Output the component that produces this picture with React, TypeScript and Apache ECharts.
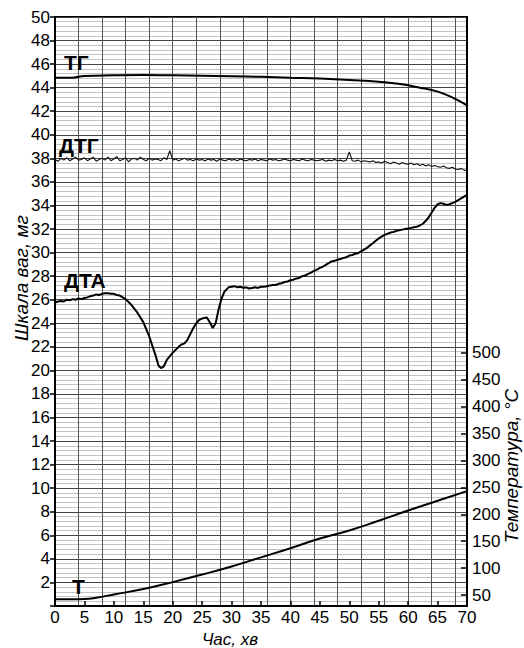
import React, { useEffect, useRef } from "react";
import * as echarts from "echarts";

// ---- data ----
const xTicksMin = 0;
const xTicksMax = 70;

// ТГ curve: [time, mg]
const tgPoints: [number, number][] = [
  [0, 44.85], [3, 44.85], [5, 45.0], [10, 45.05], [15, 45.07], [20, 45.05], [25, 45.02],
  [30, 44.97], [35, 44.92], [40, 44.85], [45, 44.78], [50, 44.65], [55, 44.5], [58, 44.35],
  [60, 44.2], [62, 44.0], [64, 43.8], [66, 43.5], [68, 43.05], [70, 42.5],
];

// ДТГ curve: sampled every 0.5 min from 0 to 70 (mg scale)
const dtgStep = 0.5;
const dtgValues: number[] = [
  37.9, 37.75, 38.0, 37.85, 38.05, 37.8, 37.95, 38.1, 37.85, 37.9,
  38.05, 37.8, 37.95, 38.1, 37.75, 37.9, 38.0, 37.85, 38.1, 37.8,
  37.95, 38.15, 37.8, 37.9, 38.05, 37.7, 37.95, 38.0, 37.85, 38.1,
  37.9, 37.8, 38.0, 37.85, 37.95, 37.9, 37.8, 38.05, 37.9, 38.65,
  37.85, 37.95, 37.8, 37.9, 38.0, 37.85, 37.9, 37.8, 37.95, 37.85,
  37.9, 37.8, 37.95, 37.85, 37.9, 37.75, 37.95, 37.85, 37.8, 37.95,
  37.85, 37.9, 37.8, 37.95, 37.85, 37.8, 37.9, 37.85, 37.95, 37.8,
  37.9, 37.85, 37.8, 37.95, 37.85, 37.9, 37.8, 37.85, 37.95, 37.85,
  37.8, 37.9, 37.85, 37.8, 37.95, 37.85, 37.8, 37.9, 37.85, 37.8,
  37.85, 37.9, 37.75, 37.85, 37.8, 37.9, 37.8, 37.85, 37.75, 37.85,
  38.55, 37.8, 37.75, 37.85, 37.7, 37.8, 37.75, 37.7, 37.8, 37.65,
  37.7, 37.6, 37.75, 37.65, 37.55, 37.7, 37.6, 37.5, 37.65, 37.55,
  37.5, 37.6, 37.45, 37.55, 37.4, 37.5, 37.35, 37.45, 37.3, 37.4,
  37.3, 37.25, 37.35, 37.2, 37.15, 37.25, 37.1, 37.05, 37.15, 37.0,
  36.95,
];

// ДТА curve: [time, mg]
const dtaPoints: [number, number][] = [
  [0, 25.75], [0.5, 25.85], [1, 25.9], [1.5, 25.85], [2, 26.0], [2.5, 25.95], [3, 26.05],
  [3.5, 26.0], [4, 26.1], [4.5, 26.05], [5, 26.15], [5.5, 26.2], [6, 26.3], [6.5, 26.35],
  [7, 26.45], [7.5, 26.4], [8, 26.5], [8.5, 26.55], [9, 26.55], [9.5, 26.5], [10, 26.5],
  [10.5, 26.4], [11, 26.35], [11.5, 26.2], [12, 26.05], [13, 25.55], [14, 24.9], [15, 24.1],
  [16, 22.9], [17, 21.4], [17.6, 20.4], [18, 20.2], [18.5, 20.35], [19, 20.9], [20, 21.5],
  [21, 22.0], [21.5, 22.2], [22, 22.3], [22.5, 22.6], [23, 23.1], [23.5, 23.6], [24, 24.0],
  [24.5, 24.3], [25, 24.4], [25.8, 24.5], [26.4, 24.0], [26.8, 23.6], [27.3, 24.0], [27.8, 25.2],
  [28.3, 26.1], [28.8, 26.7], [29.5, 27.05], [30, 27.1], [30.5, 27.15], [31, 27.05], [31.5, 27.1],
  [32, 27.0], [32.5, 27.05], [33, 26.95], [33.5, 27.0], [34, 27.05], [34.5, 27.0], [35, 27.1],
  [35.5, 27.1], [36, 27.15], [36.5, 27.2], [37, 27.25], [37.5, 27.25], [38, 27.35], [38.5, 27.4],
  [39, 27.5], [39.5, 27.55], [40, 27.65], [40.5, 27.7], [41, 27.8], [41.5, 27.85], [42, 28.0],
  [42.5, 28.05], [43, 28.2], [43.5, 28.3], [44, 28.45], [44.5, 28.55], [45, 28.7], [45.5, 28.8],
  [46, 28.95], [46.5, 29.1], [47, 29.25], [47.5, 29.3], [48, 29.4], [48.5, 29.45], [49, 29.55],
  [49.5, 29.6], [50, 29.75], [50.5, 29.8], [51, 29.9], [51.5, 29.95], [52, 30.1], [52.5, 30.25],
  [53, 30.4], [53.5, 30.6], [54, 30.8], [54.5, 31.0], [55, 31.2], [55.5, 31.35], [56, 31.5],
  [56.5, 31.6], [57, 31.7], [57.5, 31.75], [58, 31.85], [58.5, 31.9], [59, 31.95], [59.5, 32.0],
  [60, 32.05], [60.5, 32.1], [61, 32.15], [61.5, 32.2], [62, 32.3], [62.5, 32.45], [63, 32.7],
  [63.5, 33.0], [64, 33.4], [64.5, 33.8], [65, 34.1], [65.5, 34.2], [66, 34.15], [66.5, 34.05],
  [67, 34.1], [67.5, 34.2], [68, 34.3], [68.5, 34.45], [69, 34.6], [69.5, 34.75], [70, 34.9],
];

// Т curve: [time, °C]
const tPoints: [number, number][] = [
  [0, 42], [3, 42], [5, 42.5], [7, 45], [10, 51], [15, 61], [20, 74], [25, 88], [30, 103],
  [35, 120], [40, 137], [45, 155], [50, 170], [55, 188], [60, 207], [65, 225], [70, 243],
];

// axis ranges / ticks
const massMin = 0;
const massMax = 50;
const massStep = 2;
const tempTicks = [50, 100, 150, 200, 250, 300, 350, 400, 450, 500];
const tempMin = 29.6;
const tempMax = 1123.8;
// chart-paper vertical rulings (offset from the time axis)
const paperMin = -2.4;
const paperMax = 67.6;
const paperStep = 4;

const FONT = '"Liberation Sans", Arial, sans-serif';

export default function App() {
  const ref = useRef<HTMLDivElement>(null);

  useEffect(() => {
    if (!ref.current) return;
    const chart = echarts.init(ref.current, undefined, { renderer: "svg" });
    const dtgData = dtgValues.map((v, i) => [i * dtgStep, v]);

    const labelStyle = (text: string, x: number, y: number) => ({
      type: "text",
      x,
      y,
      z: 100,
      style: {
        text,
        font: `bold 21px ${FONT}`,
        fill: "#000",
        align: "left",
        verticalAlign: "middle",
      },
    });

    chart.setOption({
      animation: false,
      textStyle: { fontFamily: FONT },
      grid: {
        left: 55,
        right: 57,
        top: 17,
        bottom: 42,
        show: true,
        borderColor: "#000",
        borderWidth: 2,
        backgroundColor: "#fff",
      },
      xAxis: [
        {
          type: "value",
          min: xTicksMin,
          max: xTicksMax,
          interval: 5,
          axisLine: { show: true, onZero: false, lineStyle: { color: "#000", width: 2 } },
          axisTick: { show: true, inside: true, length: 5, lineStyle: { color: "#000", width: 1.5 } },
          axisLabel: { color: "#000", fontSize: 17, fontFamily: FONT, margin: 3 },
          splitLine: { show: false },
        },
        {
          type: "value",
          min: paperMin,
          max: paperMax,
          interval: paperStep,
          position: "bottom",
          axisLine: { show: false },
          axisTick: { show: false },
          axisLabel: { show: false },
          splitLine: { show: true, lineStyle: { color: "#555", width: 1 } },
        },
      ],
      yAxis: [
        {
          type: "value",
          min: massMin,
          max: massMax,
          interval: massStep,
          axisLine: { show: true, onZero: false, lineStyle: { color: "#000", width: 2 } },
          axisTick: { show: true, length: 5, lineStyle: { color: "#000", width: 1.5 } },
          axisLabel: {
            color: "#000",
            fontSize: 17,
            fontFamily: FONT,
            margin: 5,
            formatter: (v: number) => (v === 0 ? "" : String(v)),
          },
          splitLine: { show: true, lineStyle: { color: "#444", width: 1 } },
          minorTick: { show: false, splitNumber: 5 },
          minorSplitLine: { show: true, lineStyle: { color: "#b5b5b5", width: 0.8 } },
        },
        {
          type: "value",
          position: "right",
          min: tempMin,
          max: tempMax,
          axisLine: { show: true, onZero: false, lineStyle: { color: "#000", width: 2 } },
          axisTick: {
            show: true,
            inside: true,
            length: 6,
            customValues: tempTicks,
            lineStyle: { color: "#000", width: 1.5 },
          },
          axisLabel: {
            color: "#000",
            fontSize: 17,
            fontFamily: FONT,
            margin: 5,
            customValues: tempTicks,
          },
          splitLine: { show: false },
        },
      ],
      series: [
        {
          name: "ТГ",
          type: "line",
          data: tgPoints,
          smooth: true,
          showSymbol: false,
          lineStyle: { color: "#000", width: 2 },
          z: 10,
        },
        {
          name: "ДТГ",
          type: "line",
          data: dtgData,
          showSymbol: false,
          lineStyle: { color: "#111", width: 1.1 },
          z: 10,
        },
        {
          name: "ДТА",
          type: "line",
          data: dtaPoints,
          showSymbol: false,
          lineStyle: { color: "#000", width: 2 },
          z: 10,
        },
        {
          name: "Т",
          type: "line",
          yAxisIndex: 1,
          data: tPoints,
          smooth: true,
          showSymbol: false,
          lineStyle: { color: "#000", width: 2 },
          z: 10,
        },
      ],
      graphic: [
        labelStyle("ТГ", 64, 62),
        labelStyle("ДТГ", 59, 145),
        labelStyle("ДТА", 64, 280),
        labelStyle("Т", 72, 586),
        {
          type: "text",
          x: 21,
          y: 278,
          rotation: Math.PI / 2,
          style: {
            text: "Шкала ваг, мг",
            font: `italic 19px ${FONT}`,
            fill: "#000",
            align: "center",
            verticalAlign: "middle",
          },
        },
        {
          type: "text",
          x: 511,
          y: 466,
          rotation: Math.PI / 2,
          style: {
            text: "Температура, °C",
            font: `italic 19px ${FONT}`,
            fill: "#000",
            align: "center",
            verticalAlign: "middle",
          },
        },
        {
          type: "text",
          x: 230,
          y: 639,
          style: {
            text: "Час, хв",
            font: `italic 17px ${FONT}`,
            fill: "#000",
            align: "center",
            verticalAlign: "middle",
          },
        },
      ],
    });

    return () => chart.dispose();
  }, []);

  return (
    <div
      ref={ref}
      style={{ position: "fixed", left: 0, top: 0, width: 524, height: 648, background: "#fff" }}
    />
  );
}
